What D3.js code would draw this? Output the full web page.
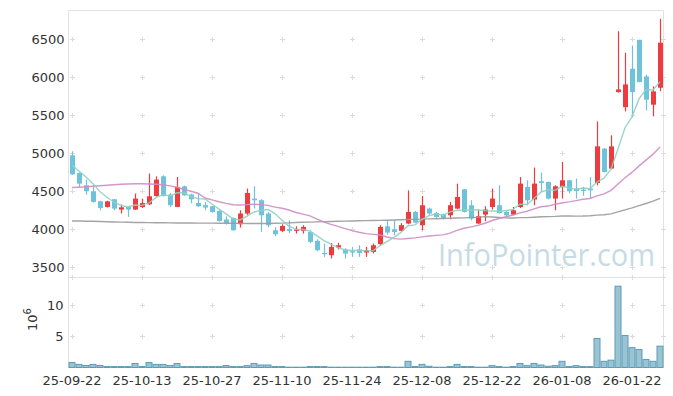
<!DOCTYPE html>
<html>
<head>
<meta charset="utf-8">
<script src="https://cdn.jsdelivr.net/npm/d3@7"></script>
<style>
html,body{margin:0;padding:0;background:#fff;}
svg{display:block;}
</style>
</head>
<body>
<svg id="chart" width="673" height="396"></svg>
<script>
const dates = ["25-09-22","25-09-23","25-09-24","25-09-25","25-09-26","25-09-29","25-09-30","25-10-01","25-10-02","25-10-10",
"25-10-13","25-10-14","25-10-15","25-10-16","25-10-17","25-10-20","25-10-21","25-10-22","25-10-23","25-10-24",
"25-10-27","25-10-28","25-10-29","25-10-30","25-10-31","25-11-03","25-11-04","25-11-05","25-11-06","25-11-07",
"25-11-10","25-11-11","25-11-12","25-11-13","25-11-14","25-11-17","25-11-18","25-11-19","25-11-20","25-11-21",
"25-11-24","25-11-25","25-11-26","25-11-27","25-11-28","25-12-01","25-12-02","25-12-03","25-12-04","25-12-05",
"25-12-08","25-12-09","25-12-10","25-12-11","25-12-12","25-12-15","25-12-16","25-12-17","25-12-18","25-12-19",
"25-12-22","25-12-23","25-12-24","25-12-26","25-12-29","25-12-30","26-01-02","26-01-05","26-01-06","26-01-07",
"26-01-08","26-01-09","26-01-12","26-01-13","26-01-14","26-01-15","26-01-16","26-01-19","26-01-20","26-01-21",
"26-01-22","26-01-23","26-01-26","26-01-27","26-01-28"];

const openP = [4974,4741,4579,4500,4368,4294,4395,4259,4294,4259,
4293,4329,4438,4697,4457,4294,4566,4457,4346,4316,
4303,4241,4128,4149,4066,4207,4404,4382,4207,3987,
3978,4004,3978,3978,3964,3846,3688,3658,3759,3733,
3711,3733,3693,3701,3803,4039,4000,3978,4075,4228,
4053,4272,4214,4197,4184,4272,4526,4316,4075,4193,
4293,4316,4228,4193,4293,4557,4391,4632,4622,4404,
4557,4645,4536,4522,4536,4609,5062,4799,5807,5609,
6114,6496,6013,5641,5864];

const highP = [5026,4750,4654,4579,4375,4375,4400,4325,4300,4470,
4404,4733,4697,4710,4480,4688,4575,4470,4478,4360,
4310,4250,4170,4155,4250,4536,4566,4395,4224,4026,
4066,4118,4039,4053,3987,3868,3812,3820,3820,3750,
3767,3789,3767,3812,4053,4118,4118,4080,4513,4240,
4438,4285,4230,4205,4360,4601,4530,4382,4250,4303,
4536,4579,4240,4293,4688,4645,4812,4746,4630,4579,
4886,4650,4667,4560,4688,5421,5070,5237,6609,6325,
6421,6496,6036,5882,6772];

const lowP = [4715,4557,4457,4350,4250,4285,4250,4207,4162,4255,
4280,4320,4430,4430,4290,4290,4440,4342,4293,4250,
4220,4100,4060,3980,4022,4190,4272,3965,4026,3908,
3961,3951,3943,3943,3816,3711,3636,3615,3733,3615,
3636,3636,3636,3680,3789,3930,3922,3970,4066,4080,
3987,4190,4150,4130,4130,4265,4220,4118,4066,4105,
4259,4207,4170,4184,4280,4316,4316,4491,4395,4250,
4404,4474,4404,4440,4404,4579,4750,4790,5800,5553,
5478,5938,5566,5487,5820];

const closeP = [4724,4601,4500,4360,4281,4368,4272,4289,4259,4404,
4346,4434,4654,4438,4316,4557,4447,4395,4303,4286,
4228,4109,4083,3987,4207,4478,4382,4184,4053,3934,
4043,3978,3996,4030,3833,3724,3671,3767,3789,3680,
3693,3688,3724,3789,4030,3957,3964,4053,4228,4088,
4316,4207,4162,4141,4316,4425,4228,4141,4171,4259,
4404,4214,4184,4250,4601,4382,4601,4610,4404,4566,
4645,4500,4504,4504,4513,5092,4754,5092,5842,5908,
5807,5938,5707,5816,6457];

// volume in millions (10^6)
const volume = [0.8,0.5,0.32,0.5,0.32,0.15,0.15,0.15,0.15,0.65,
0.15,0.8,0.5,0.5,0.32,0.65,0.15,0.15,0.15,0.15,
0.15,0.15,0.32,0.15,0.15,0.3,0.65,0.4,0.4,0.15,
0.15,0.05,0.05,0.05,0.15,0.15,0.15,0.05,0.05,0.05,
0.05,0.05,0.05,0.05,0.15,0.15,0.05,0.05,1.0,0.15,
0.5,0.2,0.05,0.05,0.15,0.5,0.15,0.15,0.05,0.05,
0.3,0.15,0.05,0.15,0.65,0.3,0.65,0.4,0.2,0.3,
1.0,0.15,0.3,0.15,0.15,4.68,1.0,1.18,13.1,5.16,
3.2,2.9,1.3,1.0,3.44];

// moving-average values before a full window is available
const ma5Head = [4842,4767,4688,4601];
const ma20Head = [4549,4553,4559,4566,4572,4579,4586,4592,4596,4599,4599,4596,4592,4586,4572,4553,4526,4500,4474];
const ma60Head = [4109,4108,4106,4105,4101,4099,4096,4094,4091,4089,
4088,4087,4086,4085,4084,4083,4083,4082,4081,4080,
4080,4079,4079,4078,4077,4076,4076,4075,4076,4078,
4081,4084,4088,4091,4094,4097,4100,4102,4105,4107,
4109,4111,4113,4115,4117,4119,4122,4125,4128,4130,
4133,4136,4138,4141,4144,4147,4150,4154,4158];

const xTickLabels = ["25-09-22","25-10-13","25-10-27","25-11-10","25-11-24","25-12-08","25-12-22","26-01-08","26-01-22"];
const priceTicks = [3500,4000,4500,5000,5500,6000,6500];
const volTicks = [5,10];

function movingAvg(n, head){
  return closeP.map((c,i)=>{
    if(i < n-1) return head[i];
    return d3.mean(closeP.slice(i-n+1, i+1));
  });
}
const ma5 = movingAvg(5, ma5Head);
const ma20 = movingAvg(20, ma20Head);
const ma60 = movingAvg(60, ma60Head);

const svg = d3.select("#chart");
const L = 68.5, R = 663.5, T = 10.5, SEP = 277.5, B = 367.5;

const x = d3.scaleBand().domain(dates).range([L, R]).padding(0);
const cx = d => x(d) + x.bandwidth()/2;
const yP = d3.scaleLinear().domain([3364, 6882]).range([SEP, T]);
const yV = d3.scaleLinear().domain([0, 14.5]).range([B, SEP]);

const gridColor = "#e3e3e3";
// frame
const frame = svg.append("g").attr("stroke", gridColor).attr("stroke-width",1).attr("fill","none");
frame.append("line").attr("x1",L).attr("x2",L).attr("y1",T).attr("y2",B);
frame.append("line").attr("x1",R).attr("x2",R).attr("y1",T).attr("y2",B);
frame.append("line").attr("x1",L).attr("x2",R).attr("y1",T).attr("y2",T);
frame.append("line").attr("x1",L).attr("x2",R).attr("y1",SEP).attr("y2",SEP);
frame.append("line").attr("x1",L).attr("x2",R).attr("y1",B).attr("y2",B);

// "+" grid markers
const markerXs = xTickLabels.map(d => Math.round(cx(d)) + 0.5).concat([R]);
const markerYs = priceTicks.map(v => Math.round(yP(v)) + 0.5)
  .concat(volTicks.map(v => Math.round(yV(v)) + 0.5)).concat([SEP]);
const mk = svg.append("g").attr("stroke", "#dcdcdc").attr("stroke-width",1);
markerXs.forEach(mx => markerYs.forEach(my => {
  mk.append("line").attr("x1",mx-2.5).attr("x2",mx+2.5).attr("y1",my).attr("y2",my);
  mk.append("line").attr("x1",mx).attr("x2",mx).attr("y1",my-2.5).attr("y2",my+2.5);
}));

// watermark
svg.append("text").attr("x",438).attr("y",266)
  .attr("font-family","'Open Sans', sans-serif").attr("font-size",31)
  .attr("textLength",217).attr("lengthAdjust","spacingAndGlyphs")
  .attr("fill","#c6dbe6").text("InfoPointer.com");

// volume bars
svg.append("g").selectAll("rect").data(dates).join("rect")
  .attr("x", d => x(d) + 0.5)
  .attr("width", x.bandwidth() - 1)
  .attr("y", (d,i) => yV(volume[i]))
  .attr("height", (d,i) => B - yV(volume[i]))
  .attr("fill", "#9ac4d4")
  .attr("stroke", "#5e9bb6")
  .attr("stroke-width", 1);

// candles
const up = "#ee3b3e", down = "#6ec2da";
const cg = svg.append("g");
dates.forEach((d,i)=>{
  const col = closeP[i] >= openP[i] ? up : down;
  const xc = Math.round(cx(d)) + 0.5;
  cg.append("line").attr("x1",xc).attr("x2",xc)
    .attr("y1",yP(highP[i])).attr("y2",yP(lowP[i]))
    .attr("stroke",col).attr("stroke-width",1.2);
  const top = yP(Math.max(openP[i],closeP[i]));
  const bot = yP(Math.min(openP[i],closeP[i]));
  cg.append("rect").attr("x",xc-2.5).attr("width",5)
    .attr("y",top).attr("height",Math.max(1.2, bot-top))
    .attr("fill",col);
});

// moving average lines
const line = arr => d3.line().x((d,i)=>cx(dates[i])).y(d=>yP(d))(arr);
svg.append("path").attr("d",line(ma60)).attr("fill","none").attr("stroke","#9a9a9a").attr("stroke-width",1.4).attr("opacity",0.9);
svg.append("path").attr("d",line(ma20)).attr("fill","none").attr("stroke","#cf8cc4").attr("stroke-width",1.4).attr("opacity",0.9);
svg.append("path").attr("d",line(ma5)).attr("fill","none").attr("stroke","#8fd0c2").attr("stroke-width",1.4).attr("opacity",0.9);

// axes labels
const font = "'DejaVu Sans', sans-serif";
const yAxisP = d3.axisLeft(yP).tickValues(priceTicks).tickFormat(d3.format("d")).tickSize(0).tickPadding(4);
const gP = svg.append("g").attr("transform",`translate(${L},0)`).call(yAxisP);
gP.select(".domain").remove();
gP.selectAll("text").attr("font-family",font).attr("font-size",13).attr("fill","#333");

const yAxisV = d3.axisLeft(yV).tickValues(volTicks).tickFormat(d3.format("d")).tickSize(0).tickPadding(5);
const gV = svg.append("g").attr("transform",`translate(${L},0)`).call(yAxisV);
gV.select(".domain").remove();
gV.selectAll("text").attr("font-family",font).attr("font-size",13).attr("fill","#333");

const xAxis = d3.axisBottom(x).tickValues(xTickLabels).tickSize(0).tickPadding(8);
const gX = svg.append("g").attr("transform",`translate(0,${B})`).call(xAxis);
gX.select(".domain").remove();
gX.selectAll("text").attr("font-family",font).attr("font-size",13).attr("fill","#333");

// 10^6 unit label
const ul = svg.append("text").attr("transform","translate(37,331) rotate(-90)")
  .attr("font-family",font).attr("font-size",13).attr("fill","#333");
ul.append("tspan").text("10");
ul.append("tspan").attr("font-size",10).attr("dy",-6).text("6");
</script>
</body>
</html>
